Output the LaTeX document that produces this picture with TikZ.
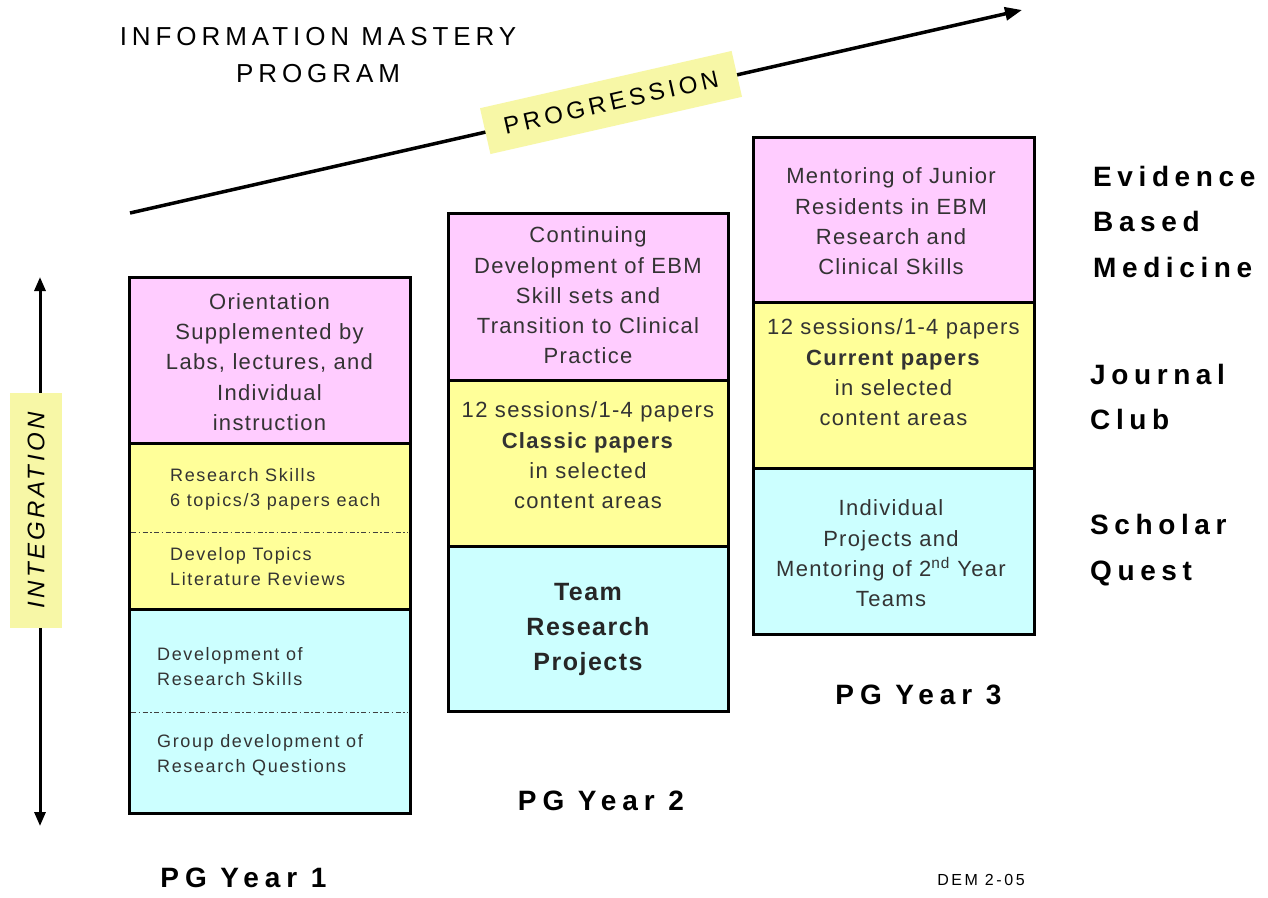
\documentclass[tikz,border=0pt]{standalone}
\usepackage{fontspec}
\setmainfont{Liberation Sans}
\usetikzlibrary{arrows.meta}

\definecolor{pinkfill}{HTML}{FFCCFF}
\definecolor{yellowfill}{HTML}{FFFF99}
\definecolor{cyanfill}{HTML}{CCFFFF}
\definecolor{tagfill}{HTML}{F7F7A6}
\definecolor{boxtext}{HTML}{333333}

% size, baselineskip, letter spacing
\newcommand\fsz[3]{\fontsize{#1}{#2}\selectfont\addfontfeature{LetterSpace=#3}}

\begin{document}
\begin{tikzpicture}[x=1pt,y=-1pt,
  section/.style={draw=black, line width=3pt},
  divider/.style={draw=black!75, line width=1pt, dash pattern=on 5pt off 2.5pt on 1.5pt off 2.5pt},
  boxtxt/.style={text=boxtext, align=center, inner sep=0pt, font=\fsz{22}{30.3}{6}},
  leftxt/.style={text=boxtext, align=left, anchor=west, inner sep=0pt, font=\fsz{18}{25}{9}},
  sidelabel/.style={align=left, anchor=west, inner sep=0pt, font=\bfseries\fsz{28}{45.5}{20}},
  yearlabel/.style={inner sep=0pt, font=\bfseries\fsz{28}{34}{21}},
  tag/.style={fill=tagfill, inner sep=0pt},
  arrowline/.style={line width=3.5pt}
]
\useasboundingbox[fill=white] (0,0) rectangle (1268,897);

% ---- title ----
\node[align=center, inner sep=0pt, font=\fsz{26}{37}{19}] (title) at (318,55.5) {INFORMATION MASTERY\\PROGRAM};

% ---- progression arrow ----
\coordinate (progA) at (130,213);
\coordinate (progB) at (1022,10);
\draw[arrowline, -{Triangle[length=17pt,width=13pt]}] (progA) -- (progB);
\node[tag, rotate=12.82, minimum width=258pt, minimum height=47pt, font=\fsz{24}{24}{17}] (prog) at (611,102.5) {PROGRESSION};

% ---- integration arrow ----
\coordinate (intA) at (40,277);
\coordinate (intB) at (40,826);
\draw[line width=3pt, {Triangle[length=14pt,width=11pt]}-{Triangle[length=14pt,width=11pt]}] (intA) -- (intB);
\node[tag, rotate=90, minimum width=235pt, minimum height=52pt, font=\itshape\fsz{24}{24}{14}] (integ) at (36,510.5) {INTEGRATION};

% ---- PG year 1 column ----
\filldraw[section, fill=pinkfill]   (129,277) rectangle (410,443);
\filldraw[section, fill=yellowfill] (129,443) rectangle (410,609);
\filldraw[section, fill=cyanfill]   (129,609) rectangle (410,813);
\draw[divider] (131,532) -- (408,532);
\draw[divider] (131,712) -- (408,712);
\node[boxtxt] (y1ebm) at (269.5,362) {Orientation\\Supplemented by\\Labs, lectures, and\\Individual\\instruction};
\node[leftxt] (y1jc1) at (170,489.5) {Research Skills\\6 topics/3 papers each};
\node[leftxt] (y1jc2) at (170,566.5) {Develop Topics\\Literature Reviews};
\node[leftxt] (y1sq1) at (157,666.5) {Development of\\Research Skills};
\node[leftxt] (y1sq2) at (157,755) {Group development of\\Research Questions};

% ---- PG year 2 column ----
\filldraw[section, fill=pinkfill]   (448,213) rectangle (728,380);
\filldraw[section, fill=yellowfill] (448,380) rectangle (728,546);
\filldraw[section, fill=cyanfill]   (448,546) rectangle (728,711);
\node[boxtxt] (y2ebm) at (588,295.5) {Continuing\\Development of EBM\\Skill sets and\\Transition to Clinical\\Practice};
\node[boxtxt] (y2jc) at (588,455.5) {12 sessions/1-4 papers\\\textbf{Classic papers}\\in selected\\content areas};
\node[boxtxt, text=black!85, font=\bfseries\fsz{25}{35}{6}] (y2sq) at (588,629) {Team\\Research\\Projects};

% ---- PG year 3 column ----
\filldraw[section, fill=pinkfill]   (753,137) rectangle (1034,302);
\filldraw[section, fill=yellowfill] (753,302) rectangle (1034,468);
\filldraw[section, fill=cyanfill]   (753,468) rectangle (1034,634);
\node[boxtxt] (y3ebm) at (891,221.5) {Mentoring of Junior\\Residents in EBM\\Research and\\Clinical Skills};
\node[boxtxt] (y3jc) at (893.5,372.5) {12 sessions/1-4 papers\\\textbf{Current papers}\\in selected\\content areas};
\node[boxtxt] (y3sq) at (891,553.5) {Individual\\Projects and\\Mentoring of 2\textsuperscript{nd} Year\\Teams};

% ---- row labels ----
\node[sidelabel] (lebm) at (1093,221.5) {Evidence\\Based\\Medicine};
\node[sidelabel] (ljc)  at (1090,397) {Journal\\Club};
\node[sidelabel] (lsq)  at (1090,550) {Scholar\\Quest};

% ---- year labels ----
\node[yearlabel] (pg1) at (243.5,878) {PG Year 1};
\node[yearlabel] (pg2) at (601,801) {PG Year 2};
\node[yearlabel] (pg3) at (918.5,695) {PG Year 3};

\node[inner sep=0pt, font=\fsz{16}{16}{16}] (stamp) at (981,880) {DEM 2-05};
\end{tikzpicture}
\end{document}
